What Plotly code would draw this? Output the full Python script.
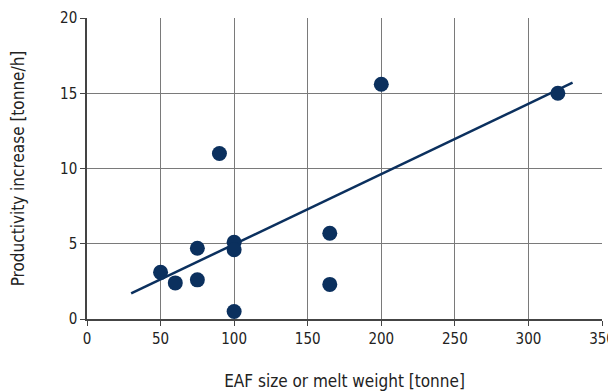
import plotly.graph_objects as go

eaf_size = [50, 60, 75, 75, 90, 100, 100, 100, 165, 165, 200, 320]
productivity = [3.1, 2.4, 4.7, 2.6, 11.0, 5.1, 4.6, 0.5, 5.7, 2.3, 15.6, 15.0]
fit_x = [30, 330]
fit_y = [1.7, 15.7]

navy = "#0b305e"
font = "DejaVu Sans Condensed, Liberation Sans Narrow, Arial Narrow, sans-serif"

fig = go.Figure()
fig.add_trace(go.Scatter(x=fit_x, y=fit_y, mode="lines",
                         line=dict(color=navy, width=2.5), showlegend=False))
fig.add_trace(go.Scatter(x=eaf_size, y=productivity, mode="markers",
                         marker=dict(color=navy, size=15), showlegend=False))

fig.update_layout(
    width=616, height=391,
    margin=dict(l=79, r=22, t=10, b=80),
    paper_bgcolor="white", plot_bgcolor="white",
    font=dict(family=font, size=15, color="#222"),
)
fig.update_xaxes(range=[0, 350], tickvals=[0, 50, 100, 150, 200, 250, 300, 350],
                 showgrid=True, gridcolor="#7a7a7a", gridwidth=1,
                 showline=True, linecolor="#444", linewidth=1.5, mirror=False,
                 ticks="outside", ticklen=5, tickcolor="#444",
                 zeroline=False, automargin=False,
                 title=dict(text="EAF size or melt weight [tonne]", font=dict(size=17), standoff=28))
fig.update_yaxes(range=[0, 20], tickvals=[0, 5, 10, 15, 20],
                 showgrid=True, gridcolor="#7a7a7a", gridwidth=1,
                 showline=True, linecolor="#444", linewidth=1.5,
                 ticks="outside", ticklen=5, tickcolor="#444",
                 zeroline=False, automargin=False,
                 title=dict(text="Productivity increase [tonne/h]", font=dict(size=17), standoff=36))

fig.write_html("out.html")
